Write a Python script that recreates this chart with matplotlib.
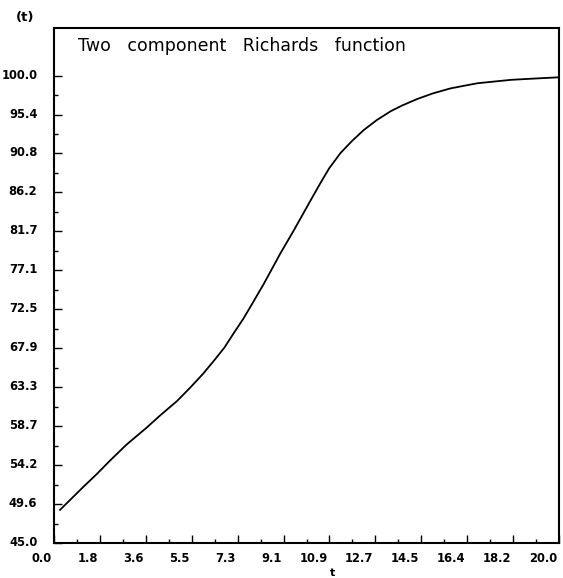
import numpy as np
import matplotlib
matplotlib.use("Agg")
import matplotlib.pyplot as plt
from matplotlib.ticker import FixedLocator
from matplotlib.transforms import ScaledTranslation
from matplotlib.font_manager import FontProperties

# Growth curve sampled along t
t = [0.24, 1.16, 1.69, 2.22, 2.88, 3.68, 4.20, 4.87, 5.40, 5.90, 6.32, 6.75,
     7.12, 7.50, 7.78, 8.31, 8.97, 9.50, 10.16, 10.56, 10.90, 11.35, 11.80,
     12.27, 12.80, 13.33, 13.80, 14.39, 15.00, 15.71, 16.77, 18.10, 19.02,
     20.0]
y = [48.9, 51.6, 53.1, 54.7, 56.6, 58.6, 60.0, 61.7, 63.3, 64.9, 66.4, 68.0,
     69.7, 71.4, 72.8, 75.5, 79.1, 81.8, 85.3, 87.4, 89.1, 90.9, 92.3,
     93.6, 94.8, 95.8, 96.5, 97.25, 97.9, 98.5, 99.1, 99.5, 99.65,
     99.8]

x_tick_labels = ["0.0", "1.8", "3.6", "5.5", "7.3", "9.1", "10.9", "12.7",
                 "14.5", "16.4", "18.2", "20.0"]
y_tick_labels = ["45.0", "49.6", "54.2", "58.7", "63.3", "67.9", "72.5",
                 "77.1", "81.7", "86.2", "90.8", "95.4", "100.0"]

title = "Two   component   Richards   function"

W, H, DPI = 563, 578, 100
fig = plt.figure(figsize=(W / DPI, H / DPI), dpi=DPI)
ax = fig.add_axes([54 / W, 1 - 543 / H, (559 - 54) / W, (543 - 28) / H])

ax.plot(t, y, color="black", lw=1.3)

ax.set_xlim(0, 20)
ax.set_ylim(45, 105.6)

x_pos = np.linspace(0, 20, len(x_tick_labels))
y_pos = np.linspace(45, 100, len(y_tick_labels))
ax.xaxis.set_major_locator(FixedLocator(x_pos))
ax.yaxis.set_major_locator(FixedLocator(y_pos))
ax.set_xticklabels(x_tick_labels)
ax.set_yticklabels(y_tick_labels)
# one minor tick halfway between neighbouring major ticks
ax.xaxis.set_minor_locator(FixedLocator((x_pos[:-1] + x_pos[1:]) / 2))
ax.yaxis.set_minor_locator(FixedLocator((y_pos[:-1] + y_pos[1:]) / 2))

tick_font = FontProperties(family="DejaVu Sans", weight="bold", size=8.3)
ax.tick_params(which="both", direction="in", top=False, right=False,
               color="black", width=1.0)
ax.tick_params(which="major", length=6)
ax.tick_params(which="minor", length=3)
ax.tick_params(axis="y", pad=12)
ax.tick_params(axis="x", pad=6.5)

for lab in ax.get_xticklabels():
    lab.set_fontproperties(tick_font)
    lab.set_ha("right")
    lab.set_transform(lab.get_transform()
                      + ScaledTranslation(-2 / DPI, 0, fig.dpi_scale_trans))
for lab in ax.get_yticklabels():
    lab.set_fontproperties(tick_font)
    lab.set_transform(lab.get_transform()
                      + ScaledTranslation(0, 2 / DPI, fig.dpi_scale_trans))

for s in ax.spines.values():
    s.set_linewidth(1.5)
    s.set_color("black")

ax.text(78 / W, 1 - 46 / H, title, transform=fig.transFigure,
        ha="left", va="center", family="DejaVu Sans", size=12.5)

fig.text(332 / W, 1 - 573 / H, "t", ha="center", va="center",
         family="DejaVu Sans", weight="bold", size=8)
fig.text(34 / W, 1 - 17 / H, "(t)", ha="right", va="center",
         family="DejaVu Sans", weight="bold", size=9.5)

fig.savefig("out.png", dpi=DPI, facecolor="white")
